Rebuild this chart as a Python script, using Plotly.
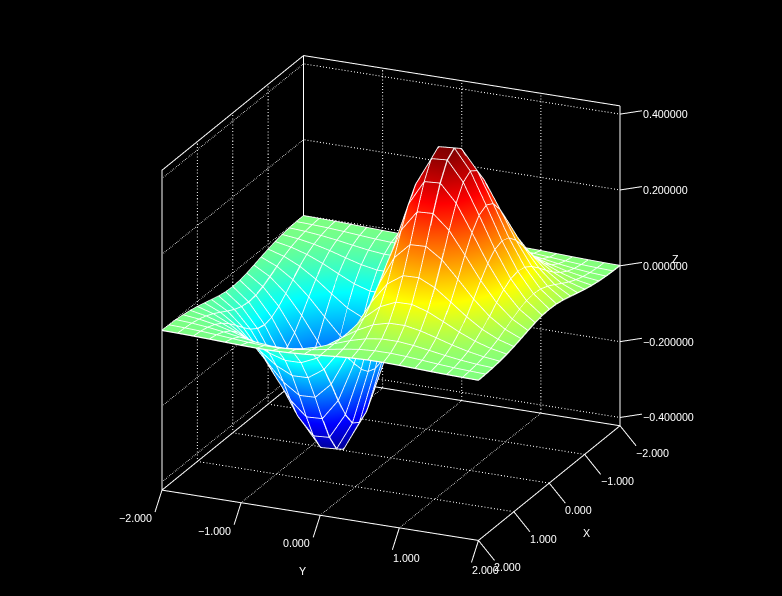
import plotly.graph_objects as go

x_values = [-2.0, -1.8, -1.6, -1.4, -1.2, -1.0, -0.8, -0.6, -0.4, -0.2, 0.0, 0.2, 0.4, 0.6, 0.8, 1.0, 1.2, 1.4, 1.6, 1.8, 2.0]
y_values = [-2.0, -1.8, -1.6, -1.4, -1.2, -1.0, -0.8, -0.6, -0.4, -0.2, 0.0, 0.2, 0.4, 0.6, 0.8, 1.0, 1.2, 1.4, 1.6, 1.8, 2.0]

row_00 = [-.0366,-.0705,-.1237,-.1973,-.2843,-.3679,-.4218,-.4186,-.3408,-.1922,0,.1922,.3408,.4186,.4218,.3679,.2843,.1973,.1237,.0705,.0366]
row_02 = [-.0352,-.0677,-.1189,-.1896,-.2732,-.3535,-.4053,-.4022,-.3274,-.1847,0,.1847,.3274,.4022,.4053,.3535,.2732,.1896,.1189,.0677,.0352]
row_04 = [-.0312,-.0601,-.1054,-.1681,-.2423,-.3135,-.3594,-.3567,-.2904,-.1638,0,.1638,.2904,.3567,.3594,.3135,.2423,.1681,.1054,.0601,.0312]
row_06 = [-.0255,-.0492,-.0863,-.1377,-.1984,-.2567,-.2943,-.2921,-.2378,-.1341,0,.1341,.2378,.2921,.2943,.2567,.1984,.1377,.0863,.0492,.0255]
row_08 = [-.0193,-.0372,-.0652,-.1040,-.1499,-.1940,-.2224,-.2207,-.1797,-.1013,0,.1013,.1797,.2207,.2224,.1940,.1499,.1040,.0652,.0372,.0193]
row_10 = [-.0135,-.0259,-.0455,-.0726,-.1046,-.1353,-.1552,-.1540,-.1254,-.0707,0,.0707,.1254,.1540,.1552,.1353,.1046,.0726,.0455,.0259,.0135]
row_12 = [-.0087,-.0167,-.0293,-.0467,-.0674,-.0872,-.0999,-.0992,-.0807,-.0455,0,.0455,.0807,.0992,.0999,.0872,.0674,.0467,.0293,.0167,.0087]
row_14 = [-.0052,-.0099,-.0174,-.0278,-.0401,-.0518,-.0594,-.0590,-.0480,-.0271,0,.0271,.0480,.0590,.0594,.0518,.0401,.0278,.0174,.0099,.0052]
row_16 = [-.0028,-.0054,-.0096,-.0153,-.0220,-.0284,-.0326,-.0324,-.0263,-.0149,0,.0149,.0263,.0324,.0326,.0284,.0220,.0153,.0096,.0054,.0028]
row_18 = [-.0014,-.0028,-.0048,-.0077,-.0111,-.0144,-.0165,-.0164,-.0134,-.0075,0,.0075,.0134,.0164,.0165,.0144,.0111,.0077,.0048,.0028,.0014]
row_20 = [-.0007,-.0013,-.0023,-.0036,-.0052,-.0067,-.0077,-.0077,-.0062,-.0035,0,.0035,.0062,.0077,.0077,.0067,.0052,.0036,.0023,.0013,.0007]

z_rows = [row_20, row_18, row_16, row_14, row_12, row_10, row_08, row_06, row_04, row_02, row_00,
          row_02, row_04, row_06, row_08, row_10, row_12, row_14, row_16, row_18, row_20]

x_ticks = [-2, -1, 0, 1, 2]
y_ticks = [-2, -1, 0, 1, 2]
z_ticks = [-0.4, -0.2, 0.0, 0.2, 0.4]
x_tick_labels = ["\u22122.000", "\u22121.000", "0.000", "1.000", "2.000"]
y_tick_labels = ["\u22122.000", "\u22121.000", "0.000", "1.000", "2.000"]
z_tick_labels = ["\u22120.400000", "\u22120.200000", "0.000000", "0.200000", "0.400000"]
x_range = [-2, 2]
y_range = [-2, 2]
z_range = [-0.4218, 0.4218]
pad = 1.3
box_scale_x = 1.525
box_scale_y = 1.51
box_scale_z = 1.495

jet = [[0, "rgb(0,0,143)"], [0.125, "rgb(0,0,255)"], [0.375, "rgb(0,255,255)"],
       [0.625, "rgb(255,255,0)"], [0.875, "rgb(255,0,0)"], [1, "rgb(128,0,0)"]]

fig = go.Figure()
fig.add_trace(go.Surface(
    x=x_values, y=y_values, z=[list(c) for c in zip(*z_rows)],
    colorscale=jet, cmin=z_range[0], cmax=z_range[1], showscale=False,
    lighting=dict(ambient=1, diffuse=0, specular=0, roughness=1, fresnel=0),
    contours=dict(
        x=dict(show=True, start=-2, end=2, size=0.2, color="white", width=3, highlight=False),
        y=dict(show=True, start=-2, end=2, size=0.2, color="white", width=3, highlight=False),
        z=dict(highlight=False)),
    hoverinfo="skip"))

# white wire mesh following the surface grid
mesh_x, mesh_y, mesh_z = [], [], []
for xv, row in zip(x_values, z_rows):
    mesh_x += [xv] * len(y_values) + [None]
    mesh_y += y_values + [None]
    mesh_z += row + [None]
for j, yv in enumerate(y_values):
    mesh_x += x_values + [None]
    mesh_y += [yv] * len(x_values) + [None]
    mesh_z += [row[j] for row in z_rows] + [None]
fig.add_trace(go.Scatter3d(x=mesh_x, y=mesh_y, z=mesh_z, mode="lines", showlegend=False, hoverinfo="skip",
                           connectgaps=False, line=dict(color="white", width=2.5)))


def seg(xs, ys, zs, dash="solid"):
    fig.add_trace(go.Scatter3d(x=xs, y=ys, z=zs, mode="lines", showlegend=False, hoverinfo="skip",
                               line=dict(color="white", width=2, dash=dash)))


x0, x1 = x_range
y0, y1 = y_range
z0, z1 = z_range
# frame: floor and the two back walls
seg([x1, x1, x0, x0, x1], [y0, y1, y1, y0, y0], [z0] * 5)
seg([x1, x1, x0, x0], [y0, y0, y0, y1], [z0, z1, z1, z1])
seg([x0, x0], [y1, y1], [z0, z1])
seg([x0, x0], [y0, y0], [z0, z1])
# dotted grid
for t in x_ticks[1:-1]:
    seg([t, t, t], [y1, y0, y0], [z0, z0, z1], "dot")
for t in y_ticks[1:-1]:
    seg([x1, x0, x0], [t, t, t], [z0, z0, z1], "dot")
for t in z_ticks:
    seg([x1, x0, x0], [y0, y0, y1], [t, t, t], "dot")
# tick marks
for t in x_ticks:
    seg([t, t], [y1, y1 + 0.203], [z0, z0 - 0.046])
for t in y_ticks:
    seg([x1, x1 + 0.197], [t, t], [z0, z0 - 0.043])
for t in z_ticks:
    seg([x0, x0 - 0.2], [y1, y1 + 0.188], [t, t])

label_font = dict(color="white", size=10.7, family="Liberation Sans")
notes = []


def note(x, y, z, text, anchor, dx, dy):
    notes.append(dict(x=x, y=y, z=z, text=text, showarrow=False, font=label_font,
                      xanchor=anchor, yanchor="middle", xshift=dx, yshift=-dy))


for t, s in zip(x_ticks, x_tick_labels):
    note(t, y1, z0, s, "left", 14, 27)
for t, s in zip(y_ticks, y_tick_labels):
    if t <= 0:
        note(x1, t, z0, s, "right", -8, 28)
    else:
        note(x1, t, z0, s, "left", -8, 30)
for t, s in zip(z_ticks, z_tick_labels):
    note(x0, y1, t, s, "left", 21, 0)
note(x1 - 2, y1, z0, "X", "center", 37, 50)
note(x1, y1 - 2, z0, "Y", "center", -18, 56)
note(x0, y1, 0.0, "Z", "center", 55, -7)

hidden = dict(visible=False, showspikes=False)
fig.update_layout(
    width=782, height=596, paper_bgcolor="black", margin=dict(l=0, r=0, t=0, b=0), showlegend=False,
    scene=dict(
        domain=dict(x=[0, 1], y=[0, 1]),
        xaxis=dict(hidden, range=[v * pad for v in x_range]),
        yaxis=dict(hidden, range=[v * pad for v in y_range]),
        zaxis=dict(hidden, range=[v * pad for v in z_range]),
        aspectmode="manual", aspectratio=dict(x=box_scale_x, y=box_scale_y, z=box_scale_z),
        camera=dict(projection=dict(type="orthographic"), up=dict(x=0, y=0, z=1),
                    center=dict(x=0, y=0, z=0), eye=dict(x=1.113, y=0.493, z=0.468)),
        annotations=notes,
        bgcolor="black"))
fig.write_html("out.html", config={"displayModeBar": False},
               post_script="document.documentElement.style.background='black';document.body.style.margin='0';document.body.style.background='black';")
